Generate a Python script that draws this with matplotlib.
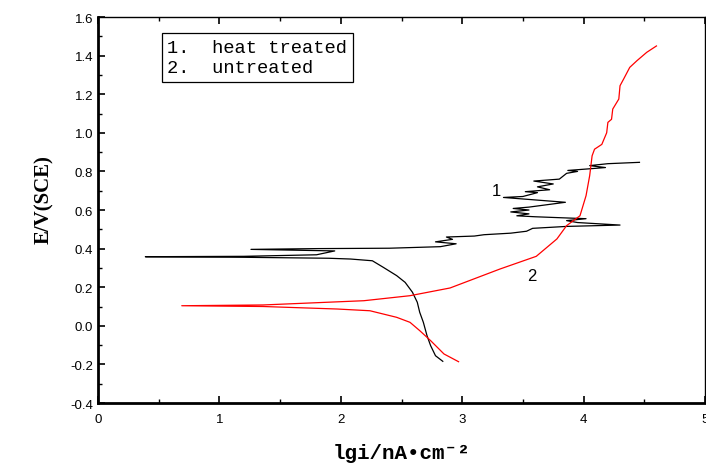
import matplotlib

matplotlib.use("Agg")
import matplotlib.pyplot as plt
from matplotlib.ticker import MultipleLocator

plt.rcParams["axes.unicode_minus"] = False

# curve 1: heat treated (cathodic tail, Ecorr spikes, zig-zag anodic branch)
heat_x = [2.84, 2.78, 2.74, 2.71, 2.68, 2.65, 2.63, 2.59, 2.53, 2.46, 2.35,
          2.26, 2.08, 1.90, 1.20, 0.39, 1.20, 1.80, 1.95, 1.26, 1.80, 2.40,
          2.82, 2.95, 2.78, 2.92, 2.87, 3.10, 3.18, 3.40, 3.53, 3.58, 3.86,
          4.30, 3.95, 3.86, 4.02, 3.60, 3.45, 3.55, 3.40, 3.55, 3.42, 3.55,
          3.85, 3.34, 3.50, 3.62, 3.52, 3.72, 3.62, 3.75, 3.59, 3.80, 3.86,
          3.95, 3.87, 4.08, 4.18, 4.05, 4.20, 4.46]
heat_y = [-0.184, -0.155, -0.103, -0.051, 0.018, 0.070, 0.122, 0.174, 0.225,
          0.260, 0.303, 0.337, 0.346, 0.350, 0.355, 0.358, 0.360, 0.368,
          0.388, 0.396, 0.400, 0.402, 0.410, 0.425, 0.435, 0.448, 0.460,
          0.465, 0.472, 0.480, 0.490, 0.505, 0.515, 0.522, 0.535, 0.545,
          0.555, 0.565, 0.570, 0.580, 0.590, 0.600, 0.608, 0.615, 0.640,
          0.665, 0.670, 0.690, 0.695, 0.705, 0.720, 0.735, 0.750, 0.760,
          0.790, 0.800, 0.805, 0.815, 0.820, 0.830, 0.840, 0.847]

# curve 2: untreated
untr_x = [2.97, 2.85, 2.74, 2.65, 2.57, 2.46, 2.24, 1.97, 1.36, 0.69, 1.36,
          2.19, 2.57, 2.90, 3.31, 3.61, 3.78, 3.86, 3.97, 4.02, 4.05, 4.07,
          4.09, 4.15, 4.19, 4.20, 4.23, 4.24, 4.29, 4.30, 4.33, 4.38, 4.44,
          4.52, 4.60]
untr_y = [-0.186, -0.146, -0.077, -0.025, 0.018, 0.044, 0.078, 0.087, 0.100,
          0.104, 0.108, 0.130, 0.156, 0.196, 0.294, 0.360, 0.450, 0.519,
          0.570, 0.674, 0.778, 0.881, 0.915, 0.940, 1.000, 1.054, 1.070,
          1.123, 1.175, 1.244, 1.279, 1.339, 1.374, 1.417, 1.450]

legend_lines = ["1.  heat treated", "2.  untreated"]

fig = plt.figure(figsize=(7.06, 4.64), dpi=100)
ax = fig.add_axes([0.1388, 0.1293, 0.8598, 0.8319])

ax.plot(heat_x, heat_y, color="black", linewidth=0.9)
ax.plot(untr_x, untr_y, color="red", linewidth=0.9)

ax.text(3.28, 0.70, "1", fontsize=12, family="Liberation Sans",
        ha="center", va="center")
ax.text(3.57, 0.26, "2", fontsize=12, family="Liberation Sans",
        ha="center", va="center")

ax.text(0.57, 1.39, "\n".join(legend_lines), fontsize=13.5,
        family="Liberation Mono", va="center", ha="left", linespacing=1.25,
        bbox=dict(boxstyle="square,pad=0.3", facecolor="white",
                  edgecolor="black", linewidth=0.9))

ax.set_xlim(0, 5)
ax.set_ylim(-0.4, 1.6)
ax.xaxis.set_major_locator(MultipleLocator(1))
ax.xaxis.set_minor_locator(MultipleLocator(0.5))
ax.yaxis.set_major_locator(MultipleLocator(0.2))
ax.yaxis.set_minor_locator(MultipleLocator(0.1))
ax.yaxis.set_major_formatter(plt.FuncFormatter(lambda v, p: f"{v:.1f}"))

ax.tick_params(which="major", direction="in", length=5, width=1.2,
               labelsize=9.5, top=True, right=False)
ax.tick_params(which="minor", direction="in", length=3, width=1,
               top=True, right=False)
for lbl in ax.get_xticklabels() + ax.get_yticklabels():
    lbl.set_family("Liberation Sans")
ax.tick_params(axis="x", pad=7)

ax.spines["left"].set_linewidth(2)
ax.spines["bottom"].set_linewidth(2)
ax.spines["top"].set_linewidth(1)
ax.spines["right"].set_linewidth(1)

ax.set_xlabel("lgi/nA•cm⁻²", fontsize=15, fontweight="bold",
              family=["Liberation Mono", "DejaVu Sans Mono"], labelpad=13)
ax.set_ylabel("E/V(SCE)", fontsize=15, fontweight="bold",
              family="Liberation Serif")
ax.yaxis.set_label_coords(-0.073, 0.53)

fig.savefig("out.png", dpi=100)
